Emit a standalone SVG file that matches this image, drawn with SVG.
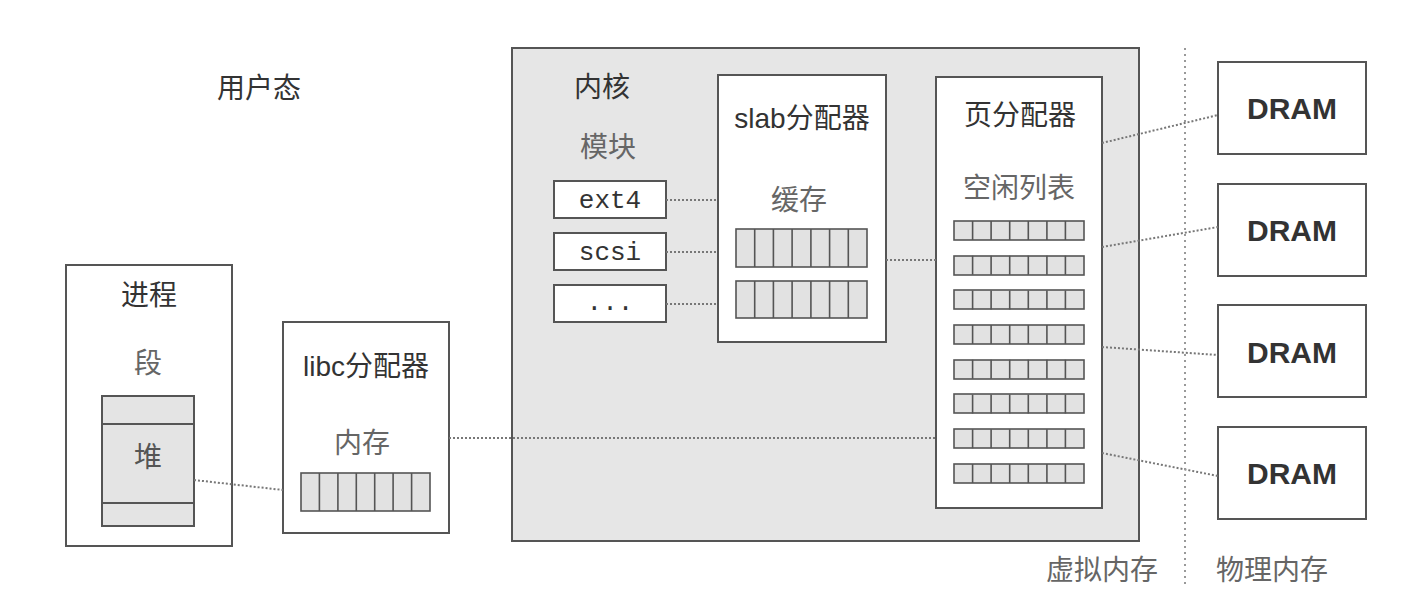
<svg xmlns="http://www.w3.org/2000/svg" width="1424" height="614" viewBox="0 0 1424 614">
<defs>
<style>
.box{fill:#fff;stroke:#555;stroke-width:2}
.kern{fill:#e6e6e6;stroke:#555;stroke-width:2}
.h{font-family:"Liberation Sans","Noto Sans CJK SC",sans-serif;font-size:28px;fill:#333;text-anchor:middle}
.s{font-family:"Noto Sans CJK SC",sans-serif;font-size:28px;fill:#666;text-anchor:middle}
.m{font-family:"Liberation Mono",monospace;font-size:26px;fill:#333;text-anchor:middle}
.d{font-family:"Liberation Sans",sans-serif;font-size:30px;font-weight:bold;fill:#333;text-anchor:middle}
.c{fill:none;stroke:#777;stroke-width:2;stroke-dasharray:2 2}
</style>
</defs>
<rect width="1424" height="614" fill="#fff"/>
<text class="h" x="259" y="98">用户态</text>

<g id="kernel">
<rect class="kern" x="512" y="48" width="627" height="493"/>
<text class="h" x="602" y="97">内核</text>
<text class="s" x="608" y="157">模块</text>
</g>

<g id="ext4"><rect class="box" x="554" y="181" width="112" height="37"/><text class="m" x="610" y="208">ext4</text></g>
<g id="scsi"><rect class="box" x="554" y="233" width="112" height="37"/><text class="m" x="610" y="260">scsi</text></g>
<g id="more"><rect class="box" x="554" y="285" width="112" height="37"/><text class="m" x="610" y="310">...</text></g>

<g id="slab">
<rect class="box" x="718" y="75" width="168" height="267"/>
<text class="h" x="802" y="128">slab分配器</text>
<text class="s" x="799" y="210">缓存</text>
<g stroke="#555" stroke-width="1.6" fill="#e2e2e2">
<rect x="736" y="229" width="131" height="38"/>
<rect x="736" y="281" width="131" height="37"/>
</g>
<path d="M754.7 229v38M773.4 229v38M792.1 229v38M810.9 229v38M829.6 229v38M848.3 229v38M754.7 281v37M773.4 281v37M792.1 281v37M810.9 281v37M829.6 281v37M848.3 281v37" stroke="#555" stroke-width="1.6"/>
</g>

<g id="page">
<rect class="box" x="936" y="77" width="166" height="431"/>
<text class="h" x="1020" y="125">页分配器</text>
<text class="s" x="1019" y="198">空闲列表</text>
<g stroke="#555" stroke-width="1.6" fill="#e2e2e2">
<rect x="954" y="221" width="130" height="19"/>
<rect x="954" y="256" width="130" height="19"/>
<rect x="954" y="290" width="130" height="19"/>
<rect x="954" y="325" width="130" height="19"/>
<rect x="954" y="360" width="130" height="19"/>
<rect x="954" y="394" width="130" height="19"/>
<rect x="954" y="429" width="130" height="19"/>
<rect x="954" y="464" width="130" height="19"/>
</g>
<path d="M972.6 221V483M991.1 221V483M1009.7 221V483M1028.3 221V483M1046.9 221V483M1065.4 221V483" stroke="#555" stroke-width="1.6" stroke-dasharray="19 15.7"/>
</g>

<g id="process">
<rect class="box" x="66" y="265" width="166" height="281"/>
<text class="h" x="149" y="305">进程</text>
<text class="s" x="148" y="373">段</text>
<rect x="102" y="396" width="92" height="130" fill="#e4e4e4" stroke="#555" stroke-width="2"/>
<path d="M102 424H194M102 503H194" stroke="#555" stroke-width="2"/>
<text class="s" x="148" y="467" style="fill:#555">堆</text>
</g>

<g id="libc">
<rect class="box" x="283" y="322" width="166" height="211"/>
<text class="h" x="366" y="376">libc分配器</text>
<text class="s" x="362" y="453">内存</text>
<rect x="301" y="473" width="129" height="38" fill="#e2e2e2" stroke="#555" stroke-width="1.6"/>
<path d="M319.4 473v38M337.9 473v38M356.3 473v38M374.7 473v38M393.1 473v38M411.6 473v38" stroke="#555" stroke-width="1.6"/>
</g>

<g id="dram1"><rect class="box" x="1218" y="62" width="148" height="92"/><text class="d" x="1292" y="119">DRAM</text></g>
<g id="dram2"><rect class="box" x="1218" y="184" width="148" height="92"/><text class="d" x="1292" y="241">DRAM</text></g>
<g id="dram3"><rect class="box" x="1218" y="305" width="148" height="92"/><text class="d" x="1292" y="363">DRAM</text></g>
<g id="dram4"><rect class="box" x="1218" y="427" width="148" height="92"/><text class="d" x="1292" y="484">DRAM</text></g>

<g id="connectors">
<path class="c" d="M666 200H718"/>
<path class="c" d="M666 252H718"/>
<path class="c" d="M666 304H718"/>
<path class="c" d="M886 260H936"/>
<path class="c" d="M194 480L283 490"/>
<path class="c" d="M449 438H936"/>
<path class="c" d="M1102 143L1218 115"/>
<path class="c" d="M1102 247L1218 227"/>
<path class="c" d="M1102 347L1218 355"/>
<path class="c" d="M1102 453L1218 476"/>
<path d="M1185 48V584" stroke="#999" stroke-width="2" stroke-dasharray="2 4" fill="none"/>
</g>

<text class="s" x="1102" y="580">虚拟内存</text>
<text class="s" x="1272" y="580">物理内存</text>
</svg>
